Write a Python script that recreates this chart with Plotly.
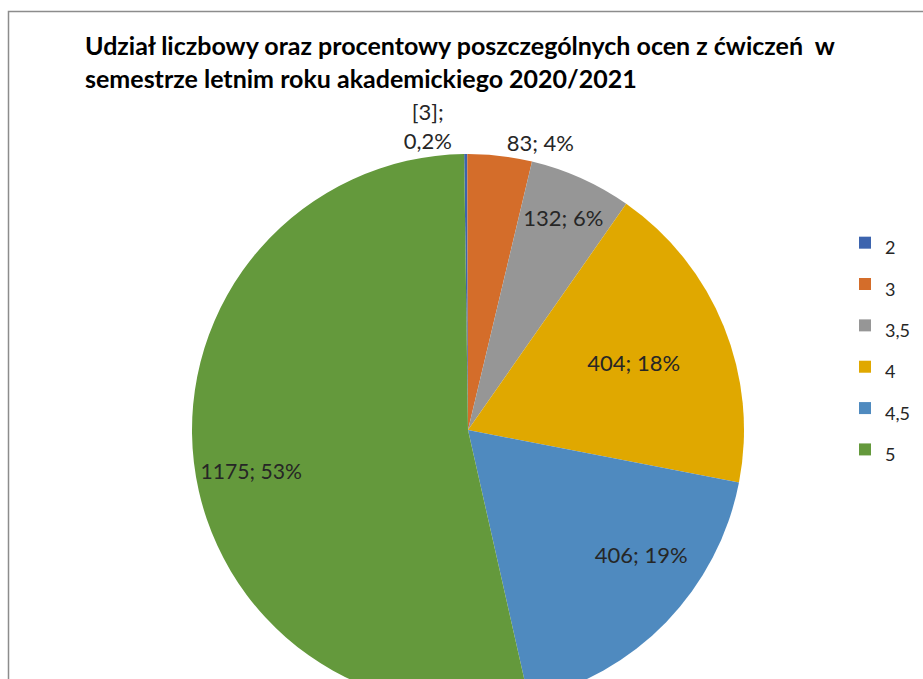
import plotly.graph_objects as go

# ---- data ----
grades = ["2", "3", "3,5", "4", "4,5", "5"]
counts = [4, 83, 132, 404, 406, 1175]
value_labels = ["[3]", "83", "132", "404", "406", "1175"]
percent_labels = ["0,2%", "4%", "6%", "18%", "19%", "53%"]
colors = ["#3C64AE", "#D46D2A", "#969696", "#E0A800", "#4F8ABF", "#64993C"]
title_text = ("Udział liczbowy oraz procentowy poszczególnych ocen z ćwiczeń  w<br>"
              "semestrze letnim roku akademickiego 2020/2021")

W, H = 923, 720
cx, cy, r = 468, 430, 276
FONT = "Lato, sans-serif"

# label text (with invisible padding to nudge the auto-placed inside labels like Excel's best fit)
NB = "&nbsp;"
texts = []
for i, (v, p) in enumerate(zip(value_labels, percent_labels)):
    t = f"{v};<br>{p}" if i == 0 else f"{v}; {p}"
    if i == 5:
        t = (NB + "<br>") * 3 + t + NB * 30
    elif i == 4:
        t = NB * 16 + t
    texts.append(t)
legend_labels = [f"<span style='font-size:18px'>{g}</span>" for g in grades]

fig = go.Figure(go.Pie(
    labels=legend_labels,
    values=counts,
    text=texts,
    textinfo="text",
    sort=False,
    direction="clockwise",
    rotation=-0.8,
    marker=dict(colors=colors, line=dict(color="white", width=0)),
    textposition=["outside", "outside", "inside", "inside", "inside", "inside"],
    insidetextorientation="horizontal",
    textfont=dict(family=FONT, size=22, color="#262626"),
    outsidetextfont=dict(family=FONT, size=22, color="#262626"),
    automargin=False,
    domain=dict(x=[(cx - r) / W, (cx + r) / W], y=[(H - cy - r) / H, (H - cy + r) / H]),
    hoverinfo="value+percent",
))

fig.update_layout(
    width=W, height=H,
    margin=dict(l=0, r=0, t=0, b=0),
    paper_bgcolor="white",
    font=dict(family=FONT, color="#262626"),
    title=dict(text=title_text, x=85 / W, xanchor="left", xref="paper",
               y=1 - 55 / H, yanchor="top", yref="paper",
               font=dict(family=FONT, size=25, color="#000000", weight="bold")),
    legend=dict(x=845 / W, xanchor="left", y=1 - 217 / H, yanchor="top",
                font=dict(family=FONT, size=29.5, color="#262626"), itemwidth=30),
    shapes=[dict(type="rect", xref="paper", yref="paper",
                 x0=8.5 / W, x1=1.05, y0=-0.05, y1=1 - 11.5 / H,
                 line=dict(color="#8C8C8C", width=1.5), fillcolor="rgba(0,0,0,0)", layer="below")],
)

fig.write_html(
    "out.html",
    config={"displayModeBar": False},
    post_script="document.body.style.margin='0';"
                "document.body.style.overflow='hidden';"
                "document.documentElement.style.overflow='hidden';",
)
